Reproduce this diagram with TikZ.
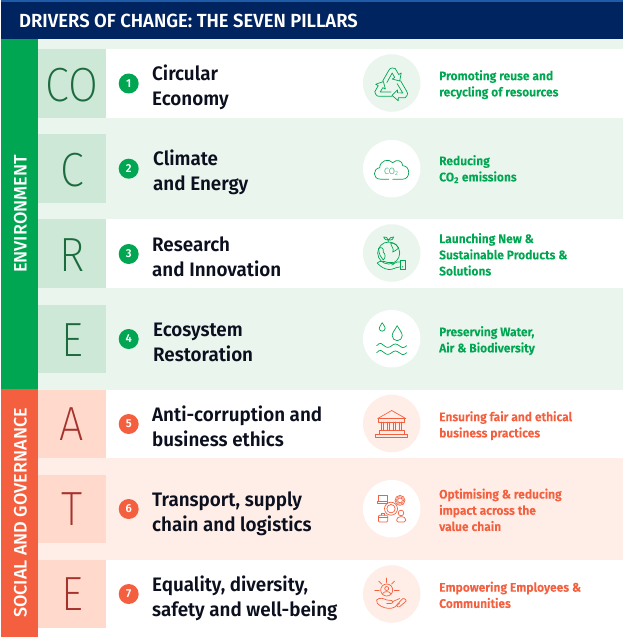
\documentclass[tikz,border=0pt]{standalone}
\usepackage{fontspec}
\setmainfont{Fira Sans}
\newfontfamily\headfont[FakeStretch=0.97]{Fira Sans SemiBold}
\newfontfamily\sidefont[FakeStretch=1.0]{Fira Sans Medium}
\newfontfamily\rowfont[FakeStretch=0.965]{Fira Sans SemiBold}
\newfontfamily\descfont[FakeStretch=0.97,FakeBold=0.2]{Fira Sans SemiBold}
\newfontfamily\bigfont[FakeStretch=0.90]{Fira Sans ExtraLight}
\newfontfamily\thinfont{Fira Sans Light}
\definecolor{navy}{HTML}{00245F}
\definecolor{stripe}{HTML}{1F5CA8}
\definecolor{grn}{HTML}{00A651}
\definecolor{grnbg}{HTML}{EAF5EE}
\definecolor{grnbox}{HTML}{CDE8D7}
\definecolor{grnletter}{HTML}{1C6B3F}
\definecolor{cor}{HTML}{F4603F}
\definecolor{corbg}{HTML}{FEEEE7}
\definecolor{corbox}{HTML}{FFD9CB}
\definecolor{corletter}{HTML}{A5322C}
\definecolor{inktext}{HTML}{0B0F1E}
\tikzset{
  band/.style={fill=#1,draw=none},
  sidelabel/.style={rotate=90,text=white,inner sep=0,font=\sidefont\fontsize{18}{20}\selectfont},
  bigletter/.style={inner sep=0,font=\bigfont\fontsize{48}{48}\selectfont},
  numdot/.style={circle,minimum size=20pt,inner sep=0,text=white,font=\headfont\fontsize{11.5}{12}\selectfont},
  rowlabel/.style={align=left,anchor=west,inner sep=0,text=inktext,font=\rowfont\fontsize{19.5}{25}\selectfont},
  desclabel/.style={align=left,anchor=west,inner sep=0,font=\descfont\fontsize{12.4}{16.2}\selectfont},
  iconbg/.style={circle,minimum size=57.5pt,inner sep=0},
  ico/.style={draw=#1,line width=0.7pt,line join=round,line cap=round,fill=none},
}
\begin{document}
\begin{tikzpicture}[x=1pt,y=-1pt]
\useasboundingbox (0,0) rectangle (623,637);
\fill[white] (0,0) rectangle (623,637);
% header
\fill[band=navy] (1,0) rectangle (623,39);
\fill[band=stripe] (1,0) rectangle (623,2);
\node[anchor=west,inner sep=0,text=white,font=\headfont\fontsize{19}{20}\selectfont] (title) at (19,21) {DRIVERS OF CHANGE: THE SEVEN PILLARS};
% backgrounds
\fill[band=grnbg] (38,39) rectangle (623,390);
\fill[band=white] (106,49) rectangle (623,118);
\fill[band=white] (106,219) rectangle (623,288);
\fill[band=corbg] (38,458) rectangle (623,560);
% side bars
\fill[band=grn] (1,39) rectangle (38,389);
\fill[band=cor] (1,389) rectangle (38,637);
\node[sidelabel] (env) at (20.5,214) {ENVIRONMENT};
\node[sidelabel] (soc) at (20.5,513) {SOCIAL AND GOVERNANCE};
% letter boxes
\fill[band=grnbox] (38,49) rectangle (106,118);
\fill[band=grnbox] (38,134) rectangle (106,203);
\fill[band=grnbox] (38,219) rectangle (106,288);
\fill[band=grnbox] (38,304.5) rectangle (106,373);
\fill[band=corbox] (38,390) rectangle (106,458);
\fill[band=corbox] (38,475) rectangle (106,543);
\fill[band=corbox] (38,560) rectangle (106,628);
\node[bigletter,text=grnletter] (l1) at (72,85) {CO};
\node[bigletter,text=grnletter] (l2) at (72,170) {C};
\node[bigletter,text=grnletter] (l3) at (72,255) {R};
\node[bigletter,text=grnletter] (l4) at (72,340) {E};
\node[bigletter,text=corletter] (l5) at (72,424) {A};
\node[bigletter,text=corletter] (l6) at (72,509) {T};
\node[bigletter,text=corletter] (l7) at (72,594) {E};
% number dots
\node[numdot,fill=grn] (n1) at (128.7,83.5) {1};
\node[numdot,fill=grn] (n2) at (128.7,168.7) {2};
\node[numdot,fill=grn] (n3) at (128.7,254) {3};
\node[numdot,fill=grn] (n4) at (128.7,339) {4};
\node[numdot,fill=cor] (n5) at (128.7,424) {5};
\node[numdot,fill=cor] (n6) at (128.7,509) {6};
\node[numdot,fill=cor] (n7) at (128.7,594) {7};
% row labels
\node[rowlabel] (r1) at (152,87.5) {\strut Circular\\\strut Economy};
\node[rowlabel] (r2) at (153,172.5) {\strut Climate\\\strut and Energy};
\node[rowlabel] (r3) at (152,258.5) {\strut Research\\\strut and Innovation};
\node[rowlabel] (r4) at (153,343.5) {\strut Ecosystem\\\strut Restoration};
\node[rowlabel] (r5) at (152,428.5) {\strut Anti-corruption and\\\strut business ethics};
\node[rowlabel] (r6) at (152,513.5) {\strut Transport, supply\\\strut chain and logistics};
\node[rowlabel] (r7) at (152,598.5) {\strut Equality, diversity,\\\strut safety and well-being};
% icon circles
\node[iconbg,fill=grnbg] (c1) at (391.7,83) {};
\node[iconbg,fill=white] (c2) at (391.7,168.7) {};
\node[iconbg,fill=grnbg] (c3) at (391.7,253) {};
\node[iconbg,fill=white] (c4) at (391.7,338.7) {};
\node[iconbg,fill=corbg] (c5) at (391.7,423.5) {};
\node[iconbg,fill=white] (c6) at (391.7,508.7) {};
\node[iconbg,fill=corbg] (c7) at (391.7,594) {};
% descriptions
\node[desclabel,text=grn] (d1) at (439,85) {\strut Promoting reuse and\\\strut recycling of resources};
\node[desclabel,text=grn] (d2) at (439,170) {\strut Reducing\\\strut CO\textsubscript{2} emissions};
\node[desclabel,text=grn] (d3) at (439,256) {\strut Launching New \&\\\strut Sustainable Products \&\\\strut Solutions};
\node[desclabel,text=grn] (d4) at (439,341) {\strut Preserving Water,\\\strut Air \& Biodiversity};
\node[desclabel,text=cor] (d5) at (439,426) {\strut Ensuring fair and ethical\\\strut business practices};
\node[desclabel,text=cor] (d6) at (439,511.5) {\strut Optimising \& reducing\\\strut impact across the\\\strut value chain};
\node[desclabel,text=cor] (d7) at (439,596.5) {\strut Empowering Employees \&\\\strut Communities};
% icon 1: recycling
\begin{scope}[shift={(c1.center)}]
\foreach \a in {0,120,240}
  \draw[ico=grn,rotate around={\a:(0,3)}] (-9,-2) -- (-3,-12.5) .. controls (-2,-14.5) and (-1,-15) .. (0.5,-15) -- (3.5,-14.5) -- (7,-8.5) -- (9.5,-10) -- (8,-2) -- (0.5,-4) -- (3,-5.5) -- (0.5,-10) -- (-4.8,-0.5);
\end{scope}
% icon 2: cloud
\begin{scope}[shift={(c2.center)}]
\draw[ico=grn] (-3,10.5) -- (-11,10.5) .. controls (-19.5,10.5) and (-19,0) .. (-12,-1) .. controls (-12,-8) and (-3,-11) .. (1,-6) .. controls (5,-10) and (11,-8) .. (11,-3) .. controls (19,-3) and (19,10.5) .. (11,10.5) -- (1,10.5);
\node[inner sep=0,text=grn,font=\thinfont\fontsize{9}{9}\selectfont] (co) at (-0.5,3) {CO\textsubscript{2}};
\end{scope}
% icon 3: globe in hand
\begin{scope}[shift={(c3.center)}]
\draw[ico=grn] (-3,0) circle (11);
\draw[ico=grn] (-3.5,-11) -- (-3.5,-13) .. controls (-7,-13) and (-8,-15) .. (-8,-16) .. controls (-6,-16.5) and (-4,-15.5) .. (-3.5,-13) .. controls (-2,-15.5) and (0,-16) .. (2,-16) .. controls (2,-14) and (0,-12.5) .. (-3.5,-13);
\draw[ico=grn] (-13,-4.5) .. controls (-10,-7) and (-7.5,-4) .. (-8.5,-1) .. controls (-6,1) and (-6,5) .. (-8.5,7) .. controls (-11,4) and (-13,1) .. (-13,-4.5);
\draw[ico=grn] (-1,-10) .. controls (3,-10) and (6,-8) .. (7,-5) .. controls (4,-4) and (4,-1) .. (1,-1) .. controls (3,-4) and (-1,-7) .. (-1,-10);
\draw[ico=grn] (-14.5,10) .. controls (-12,7.5) and (-8,8) .. (-4,9.5) -- (1,9.5) .. controls (3,10.5) and (2,12) .. (0,12) (2.5,10.5) .. controls (4,9.5) and (7,8) .. (8,9) (8,14) .. controls (4,14) and (1,17) .. (-3,16.5) .. controls (-7,16) and (-11,14) .. (-14.5,10);
\draw[ico=grn] (8.3,7) rectangle (14,16.5);
\fill[grn] (11,13.8) circle (0.7);
\end{scope}
% icon 4: drops and waves
\begin{scope}[shift={(c4.center)}]
\draw[ico=grn] (-9.5,-16) .. controls (-8,-13) and (-6.5,-12) .. (-6.5,-10.5) arc (0:180:3) .. controls (-12.5,-12) and (-11,-13) .. (-9.5,-16) -- cycle;
\draw[ico=grn] (5.5,-13) .. controls (8,-8.5) and (10.5,-6) .. (10.5,-3) arc (0:180:5) .. controls (0.5,-6) and (3,-8.5) .. (5.5,-13) -- cycle;
\draw[ico=grn] (-15,7) .. controls (-12,3) and (-9,5) .. (-7.5,7) .. controls (-5,9.5) and (-2.5,9) .. (0,7) .. controls (2.5,4.5) and (5,5) .. (7.5,7) .. controls (9,9) and (12,10) .. (15,7);
\draw[ico=grn] (-15,14) .. controls (-12,10) and (-9,12) .. (-7.5,14) .. controls (-5,16.5) and (-2.5,16) .. (0,14) .. controls (2.5,11.5) and (5,12) .. (7.5,14) .. controls (9,16) and (12,17) .. (15,14);
\end{scope}
% icon 5: temple
\begin{scope}[shift={(c5.center)}]
\draw[ico=cor] (-14,-5) -- (0,-13) -- (14,-5) -- cycle;
\draw[ico=cor] (-13,-5) rectangle (13,-1.5);
\foreach \cx in {-10,-4,2,8} \draw[ico=cor] (\cx,-1.5) -- (\cx,7) (\cx+2,-1.5) -- (\cx+2,7);
\draw[ico=cor] (-12.5,7) rectangle (12.5,10.5);
\draw[ico=cor] (-16,10.5) rectangle (16,14);
\end{scope}
% icon 6: network of gears
\begin{scope}[shift={(c6.center)}]
\draw[ico=cor] (-0.7,0) circle (6.5);
\draw[ico=cor] (-0.7,0) circle (4.2);
\draw[ico=cor] (8.3,-8.3) circle (5);
\draw[ico=cor] (8.3,-8.3) circle (2.4);
\draw[ico=cor,dash pattern=on 1pt off 1pt] (8.3,-8.3) circle (3.7);
\draw[ico=cor] (-13,-13.3) rectangle (-4.5,-7);
\draw[ico=cor] (-14,-7) rectangle (-4,-5);
\draw[ico=cor,rounded corners=1pt] (-13.3,6.5) rectangle (-4,13.3);
\draw[ico=cor] (-10.5,6.5) -- (-10.5,5) -- (-7,5) -- (-7,6.5) (-13.3,9) -- (-4,9);
\draw[ico=cor] (9.3,4.3) circle (2.8);
\draw[ico=cor,rounded corners=1.5pt] (5,13.3) -- (5,9.5) -- (7.5,8) -- (11.5,8) -- (14,9.5) -- (14,13.3) -- cycle;
\end{scope}
% icon 7: person in hand
\begin{scope}[shift={(c7.center)}]
\draw[ico=cor] (-5,-4) circle (6);
\draw[ico=cor] (-5,-5.5) circle (2);
\draw[ico=cor] (-9,-0.5) .. controls (-8,-3) and (-2,-3) .. (-1,-0.5);
\foreach \xa/\ya/\xb/\yb in {-5/-16/-5/-11.5,-13/-13/-9.8/-9.8,3/-13/-0.2/-9.8,-17/-4/-12.5/-4,7.5/-4/2.5/-4}
  \draw[ico=cor] (\xa,\ya) -- (\xb,\yb);
\draw[ico=cor] (-15,6) .. controls (-12,3) and (-8,4.5) .. (-5,6) -- (0,6.5) .. controls (2,7) and (2,9) .. (-1,9.5) -- (-5,9.5);
\draw[ico=cor] (1,7.5) -- (8,4.5);
\draw[ico=cor] (-15,6) .. controls (-16,8) and (-14,10) .. (-11,12) .. controls (-6,15) and (0,15) .. (3,13) -- (8,9);
\draw[ico=cor,rounded corners=1pt] (7,13.5) -- (4.5,11.5) -- (11.5,4) -- (15,6.5) -- cycle;
\end{scope}
\end{tikzpicture}
\end{document}
